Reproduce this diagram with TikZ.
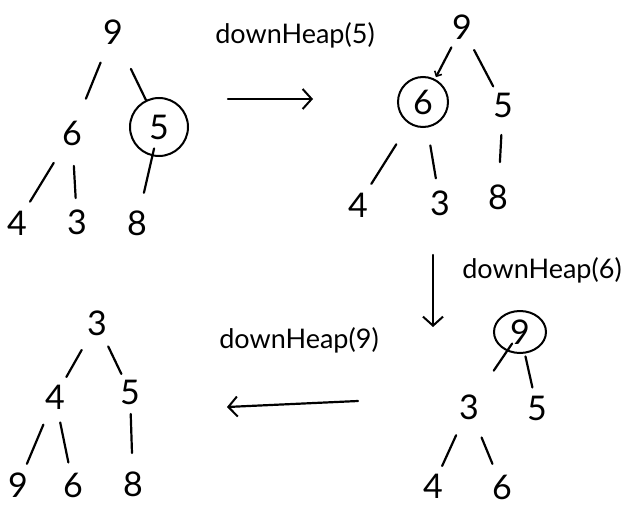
\documentclass[tikz,border=0pt]{standalone}
\usepackage{fontspec}
\setmainfont{Lato}
\usetikzlibrary{arrows.meta,shapes.geometric}
\begin{document}
\begin{tikzpicture}[x=1pt,y=-1pt,
  digit/.style={inner sep=0pt,font=\fontsize{34}{34}\selectfont},
  circled/.style={digit,draw,line width=2pt,circle},
  lbl/.style={inner sep=0pt,font=\fontsize{27}{27}\selectfont},
  edge/.style={line width=2.2pt,line cap=round},
  bigarrow/.style={line width=2.2pt,line cap=round,-{Straight Barb[length=9pt,width=20pt,line width=2pt]}}]
\useasboundingbox (0,0) rectangle (624,506);
% tree 1
\node[digit] (a9) at (113,32) {9};
\node[digit] (a6) at (72,133) {6};
\node[circled,minimum size=58pt] (a5) at (159,127) {5};
\node[digit] (a4) at (17,223) {4};
\node[digit] (a3) at (77,222) {3};
\node[digit] (a8) at (137,223) {8};
\draw[edge,shorten <=33pt,shorten >=37pt] (a9.center) -- (a6.center);
\draw[edge,shorten <=41pt,shorten >=30pt] (a9.center) -- (a5.center);
\draw[edge,shorten <=35pt,shorten >=25pt] (a6.center) -- (a4.center);
\draw[edge,shorten <=33pt,shorten >=24pt] (a6.center) -- (a3.center);
\draw[edge,shorten <=22pt,shorten >=31pt] (a5.center) -- (a8.center);
% arrow 1
\coordinate (r1s) at (228,99);
\coordinate (r1e) at (313,99);
\draw[bigarrow] (r1s) -- (r1e);
\node[lbl] (l1) at (295,35) {downHeap(5)};
% tree 2
\node[digit] (b9) at (462,27) {9};
\node[circled,minimum size=50pt] (b6) at (423,102) {6};
\node[digit] (b5) at (503,105) {5};
\node[digit] (b4) at (358,205) {4};
\node[digit] (b3) at (440,203) {3};
\node[digit] (b8) at (498,197) {8};
\draw[edge,shorten <=23pt,shorten >=28pt,-{Straight Barb[length=4pt,width=8pt,line width=1.6pt]}] (b9.center) -- (b6.center);
\draw[edge,shorten <=26pt,shorten >=21pt] (b9.center) -- (b5.center);
\draw[edge,shorten <=50pt,shorten >=25pt] (b6.center) -- (b4.center);
\draw[edge,shorten <=44pt,shorten >=25pt] (b6.center) -- (b3.center);
\draw[edge,shorten <=30pt,shorten >=35pt] (b5.center) -- (b8.center);
% arrow 2
\coordinate (r2s) at (433,255);
\coordinate (r2e) at (433,327);
\draw[bigarrow] (r2s) -- (r2e);
\node[lbl] (l2) at (542,270) {downHeap(6)};
% tree 3
\node[digit,draw,line width=2pt,ellipse,minimum width=52pt,minimum height=42pt] (c9) at (520,332) {9};
\node[digit] (c3) at (469,407) {3};
\node[digit] (c5) at (537,408) {5};
\node[digit] (c4) at (433,486) {4};
\node[digit] (c6) at (502,487) {6};
\draw[edge,shorten <=14pt,shorten >=44pt] (c9.center) -- (c3.center);
\draw[edge,shorten <=25pt,shorten >=21pt] (c9.center) -- (c5.center);
\draw[edge,shorten <=31pt,shorten >=22pt] (c3.center) -- (c4.center);
\draw[edge,shorten <=33pt,shorten >=25pt] (c3.center) -- (c6.center);
% arrow 3
\coordinate (r3s) at (358,401);
\coordinate (r3e) at (227,407);
\draw[bigarrow] (r3s) -- (r3e);
\node[lbl] (l3) at (299,340) {downHeap(9)};
% tree 4
\node[digit] (d3) at (97,323) {3};
\node[digit] (d4) at (55,397) {4};
\node[digit] (d5) at (130,392) {5};
\node[digit] (d9) at (18,485) {9};
\node[digit] (d6) at (73,485) {6};
\node[digit] (d8) at (133,484) {8};
\draw[edge,shorten <=31pt,shorten >=23pt] (d3.center) -- (d4.center);
\draw[edge,shorten <=26pt,shorten >=20pt] (d3.center) -- (d5.center);
\draw[edge,shorten <=30pt,shorten >=23pt] (d4.center) -- (d9.center);
\draw[edge,shorten <=26pt,shorten >=23pt] (d4.center) -- (d6.center);
\draw[edge,shorten <=22pt,shorten >=31pt] (d5.center) -- (d8.center);
\end{tikzpicture}
\end{document}
